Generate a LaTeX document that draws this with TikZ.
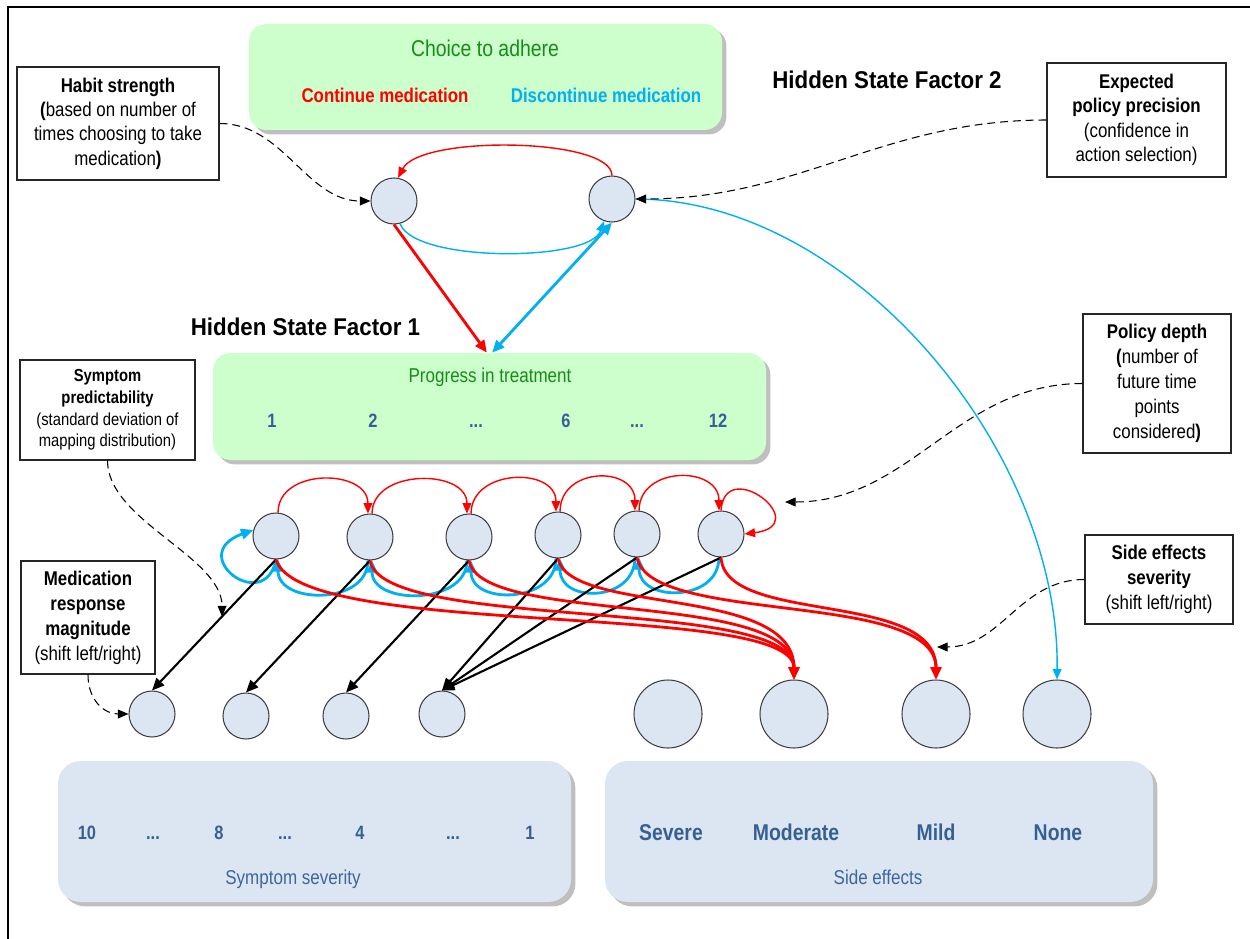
\documentclass[tikz,border=0pt]{standalone}
\usepackage{fontspec}
\setmainfont{Liberation Sans}[FakeStretch=0.85]
\newfontfamily\titlefont{Liberation Sans}[FakeStretch=0.92]
\usetikzlibrary{arrows.meta,shadows}

\definecolor{boxgreen}{RGB}{204,255,204}
\definecolor{txtgreen}{RGB}{22,140,22}
\definecolor{cred}{RGB}{255,0,0}
\definecolor{cblue}{RGB}{0,176,240}
\definecolor{nodefill}{RGB}{220,230,242}
\definecolor{nodeedge}{RGB}{64,64,64}
\definecolor{numblue}{RGB}{55,96,146}
\definecolor{lblblue}{RGB}{62,102,152}

\def\PX{0.02cm}
\newcommand\dotsym{...}

\tikzset{
  softshadow/.style={drop shadow={shadow xshift=2.5pt, shadow yshift=-2.5pt, fill=black!45, opacity=0.55}},
  greenbox/.style={fill=boxgreen, rounded corners=10pt, softshadow, inner sep=0pt},
  obsbox/.style={fill=nodefill, rounded corners=13pt, softshadow, inner sep=0pt},
  parambox/.style={draw=black!85, line width=0.7pt, fill=white, align=center, inner sep=0pt},
  state/.style={circle, draw=nodeedge, line width=0.6pt, fill=nodefill, minimum size=46*\PX, inner sep=0pt},
  bigstate/.style={state, minimum size=68*\PX},
  boxfont/.style={font=\fontsize{11.3}{13.9}\selectfont},
  boxfontwide/.style={font=\fontsize{11.3}{14.2}\selectfont},
  boxfontsmall/.style={font=\fontsize{9.9}{12.3}\selectfont},
  numtxt/.style={anchor=base, text=numblue, font=\bfseries\fontsize{11}{13}\selectfont},
  sidetxt/.style={anchor=base, text=numblue, font=\bfseries\fontsize{13}{15}\selectfont},
  titletxt/.style={anchor=base, font=\titlefont\bfseries\fontsize{13.8}{16}\selectfont},
  tipS/.tip={Triangle[length=6pt,width=5pt]},
  tipL/.tip={Triangle[length=7pt,width=6pt]},
  redthin/.style={draw=cred, line width=0.8pt, -tipS},
  redthick/.style={draw=cred, line width=1.6pt, -tipL},
  bluethin/.style={draw=cblue, line width=0.8pt, -tipS},
  bluethick/.style={draw=cblue, line width=1.6pt, -tipL},
  blackarr/.style={draw=black, line width=1.2pt, -tipL},
  dasharr/.style={draw=black, line width=0.6pt, dash pattern=on 4.5pt off 2.8pt, -tipS},
}

\begin{document}
\begin{tikzpicture}[x=0.02cm, y=-0.02cm]
\useasboundingbox (0,0) rectangle (1250,939);
\fill[white] (0,0) rectangle (1250,939);
\draw[line width=1.1pt] (8,939) -- (8,7) -- (1250,7);

% ---------- coloured panels ----------
\node[greenbox, minimum width=473*\PX, minimum height=106*\PX] (choice) at (485.5,77) {};
\node[greenbox, minimum width=553*\PX, minimum height=107*\PX] (prog) at (489.5,406.5) {};
\node[obsbox, minimum width=513*\PX, minimum height=141*\PX] (sympbox) at (314.5,831.5) {};
\node[obsbox, minimum width=548*\PX, minimum height=141*\PX] (sidebox) at (879,831.5) {};

% ---------- panel texts ----------
\node[anchor=base, text=txtgreen, font=\fontsize{13}{15}\selectfont] (choicelbl) at (485,57) {Choice to adhere};
\node[anchor=base, text=cred, font=\bfseries\fontsize{11.3}{13}\selectfont] (contlbl) at (385,103) {Continue medication};
\node[anchor=base, text=cblue, font=\bfseries\fontsize{11.3}{13}\selectfont] (disclbl) at (606,103) {Discontinue medication};
\node[anchor=base, text=txtgreen, font=\fontsize{11.4}{13}\selectfont] (proglbl) at (490,382) {Progress in treatment};
\foreach \x/\t [count=\i] in {272/1, 373/2, 476/\dotsym, 566/6, 637/\dotsym, 718/12}
  \node[numtxt] (pn\i) at (\x,427) {\t};
\foreach \x/\t [count=\i] in {87/10, 153/\dotsym, 219/8, 285/\dotsym, 360/4, 453/\dotsym, 530/1}
  \node[numtxt] (sn\i) at (\x,839) {\t};
\foreach \x/\t [count=\i] in {671/Severe, 796/Moderate, 936/Mild, 1058/None}
  \node[sidetxt] (se\i) at (\x,840) {\t};
\node[anchor=base, text=lblblue, font=\fontsize{11.4}{13}\selectfont] (symplbl) at (293,884) {Symptom severity};
\node[anchor=base, text=lblblue, font=\fontsize{11.4}{13}\selectfont] (sidelbl) at (878,884) {Side effects};

\node[titletxt] (hsf2) at (887,89) {Hidden State Factor 2};
\node[titletxt] (hsf1) at (305.5,335) {Hidden State Factor 1};

% ---------- parameter boxes ----------
\node[parambox, boxfont, minimum width=202*\PX, minimum height=113*\PX] (habit) at (118,123.5)
  {\textbf{Habit strength}\\\textbf{(}based on number of\\times choosing to take\\medication\textbf{)}};
\node[parambox, boxfont, minimum width=179*\PX, minimum height=114*\PX] (expected) at (1136.5,120)
  {\textbf{Expected}\\\textbf{policy precision}\\(confidence in\\action selection)};
\node[parambox, boxfontsmall, minimum width=175*\PX, minimum height=100*\PX] (sympred) at (107.5,410)
  {\textbf{Symptom}\\\textbf{predictability}\\(standard deviation of\\mapping distribution)};
\node[parambox, boxfontwide, minimum width=134*\PX, minimum height=113*\PX] (medresp) at (88,617.5)
  {\textbf{Medication}\\\textbf{response}\\\textbf{magnitude}\\(shift left/right)};
\node[parambox, boxfontwide, minimum width=148*\PX, minimum height=139*\PX] (policy) at (1157,383.5)
  {\textbf{Policy depth}\\\textbf{(}number of\\future time\\points\\considered\textbf{)}};
\node[parambox, boxfontwide, minimum width=148*\PX, minimum height=89*\PX] (sideeff) at (1159,579.5)
  {\textbf{Side effects}\\\textbf{severity}\\(shift left/right)};

% ---------- state nodes ----------
\node[state] (a1) at (394,201) {};
\node[state] (a2) at (612,199) {};
\node[state] (s1) at (276,536) {};
\node[state] (s2) at (370,537) {};
\node[state] (s3) at (469,537) {};
\node[state] (s4) at (558,535) {};
\node[state] (s5) at (637,534) {};
\node[state] (s6) at (721,534) {};
\node[state] (o1) at (152,714) {};
\node[state] (o2) at (246,716) {};
\node[state] (o3) at (346,716) {};
\node[state] (o4) at (442,714) {};
\node[bigstate] (e1) at (668,714) {};
\node[bigstate] (e2) at (794,714) {};
\node[bigstate] (e3) at (936,714) {};
\node[bigstate] (e4) at (1057,714) {};

% ---------- choice factor transitions ----------
\draw[redthin] (a2.north) .. controls +(0,-38) and +(22,-43) .. (a1.80);
\draw[bluethin] (a1.-75) .. controls +(14,39) and +(-14,41) .. (a2.-110);
\draw[redthick] (a1.south) -- ([xshift=-1.5pt]prog.north);
\draw[bluethick, tipL-tipL] ([xshift=1.5pt]prog.north) -- (a2.south);
\draw[bluethin] (a2.east) .. controls +(215,0) and +(3,-230) .. (e4.north);

% ---------- progress transitions (continue) ----------
\draw[redthin] (s1.85) .. controls +(0,-45) and +(0,-45) .. (s2.95);
\draw[redthin] (s2.85) .. controls +(0,-45) and +(0,-45) .. (s3.95);
\draw[redthin] (s3.85) .. controls +(0,-45) and +(0,-45) .. (s4.95);
\draw[redthin] (s4.85) .. controls +(0,-45) and +(0,-45) .. (s5.95);
\draw[redthin] (s5.85) .. controls +(0,-45) and +(0,-45) .. (s6.95);
\draw[redthin] (s6.north) .. controls +(4,-56) and +(71,-9) .. (s6.east);

% ---------- progress transitions (discontinue) ----------
\draw[bluethick] (s1.south) .. controls +(-11,56) and +(-69,25) .. (s1.165);
\draw[bluethick] (s2.-95) .. controls +(0,45) and +(0,45) .. (s1.-85);
\draw[bluethick] (s3.-95) .. controls +(0,45) and +(0,45) .. (s2.-85);
\draw[bluethick] (s4.-95) .. controls +(0,45) and +(0,45) .. (s3.-85);
\draw[bluethick] (s5.-95) .. controls +(0,45) and +(0,45) .. (s4.-85);
\draw[bluethick] (s6.-95) .. controls +(0,45) and +(0,45) .. (s5.-85);

% ---------- symptom observations ----------
\draw[blackarr] (s1.south) -- coordinate[pos=0.435] (m1) (o1.north);
\draw[blackarr] (s2.south) -- (o2.north);
\draw[blackarr] (s3.south) -- (o3.north);
\draw[blackarr] (s4.south) -- (o4.north);
\draw[blackarr] (s5.south) -- (o4.north);
\draw[blackarr] (s6.south) -- (o4.north);

% ---------- side-effect observations ----------
\draw[redthick] (s1.south) .. controls +(24,81) and +(0,-80) .. (e2.north);
\draw[redthick] (s2.south) .. controls +(12,72) and +(0,-84) .. (e2.north);
\draw[redthick] (s3.south) .. controls +(11,65) and +(0,-90) .. (e2.north);
\draw[redthick] (s4.south) .. controls +(12,57) and +(0,-95) .. (e2.north);
\draw[redthick] (s5.south) .. controls +(13,68) and +(0,-90) .. (e3.north);
\draw[redthick] (s6.south) .. controls +(4,68) and +(0,-90) .. (e3.north);

% ---------- parameter influences ----------
\coordinate (pdtip) at (785,502);
\coordinate (setip) at (937,647);
\draw[dasharr] (habit.east) .. controls +(64,0) and +(-64,0) .. (a1.west);
\draw[dasharr] (expected.west) .. controls +(-164,0) and +(164,0) .. (a2.east);
\draw[dasharr] (sympred.south) .. controls +(0,60) and +(0,-60) .. (m1);
\draw[dasharr] (medresp.south) .. controls +(0,26) and +(-24,0) .. (o1.west);
\draw[dasharr] (policy.west) .. controls +(-125,0) and +(125,0) .. (pdtip);
\draw[dasharr] (sideeff.west) .. controls +(-65,0) and +(65,0) .. (setip);
\end{tikzpicture}
\end{document}
